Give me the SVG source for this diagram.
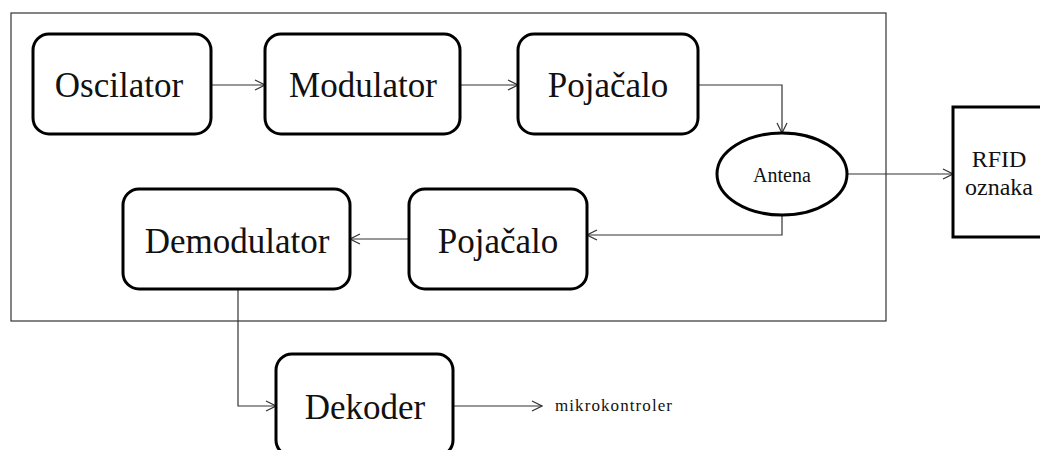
<svg xmlns="http://www.w3.org/2000/svg" width="1040" height="450" viewBox="0 0 1040 450">
<defs>
<style>
.box{fill:#fff;stroke:#000;stroke-width:3}
.frame{fill:none;stroke:#333;stroke-width:1.2}
.conn{fill:none;stroke:#333;stroke-width:1.2;marker-end:url(#arr)}
.t{font-family:"Liberation Serif","Times New Roman",serif;fill:#111;text-anchor:middle}
.big{font-size:35px}
</style>
<marker id="arr" viewBox="0 0 12 12" refX="11" refY="6" markerWidth="12" markerHeight="12" markerUnits="userSpaceOnUse" orient="auto">
<path d="M1,1 L11,6 L1,11" fill="none" stroke="#333" stroke-width="1.2"/>
</marker>
</defs>
<rect width="1040" height="450" fill="#fff"/>
<rect class="frame" x="11" y="13" width="875" height="308"/>
<g id="connectors">
<path class="conn" d="M211,85 H265"/>
<path class="conn" d="M460,85 H518"/>
<path class="conn" d="M698,85 H782 V133"/>
<path class="conn" d="M847,174 H953"/>
<path class="conn" d="M782,215 V235 H587"/>
<path class="conn" d="M409,239 H350"/>
<path class="conn" d="M238,289 V406 H276"/>
<path class="conn" d="M453,406 H542"/>
</g>
<g id="oscilator">
<rect class="box" x="33" y="34" width="178" height="100" rx="16"/>
<text class="t big" x="119" y="97">Oscilator</text>
</g>
<g id="modulator">
<rect class="box" x="265" y="34" width="195" height="100" rx="16"/>
<text class="t big" x="363" y="97">Modulator</text>
</g>
<g id="pojacalo1">
<rect class="box" x="518" y="34" width="180" height="100" rx="16"/>
<text class="t big" x="608" y="97">Pojačalo</text>
</g>
<g id="antena">
<ellipse class="box" cx="782" cy="174" rx="65" ry="41"/>
<text class="t" x="782" y="182" font-size="20">Antena</text>
</g>
<g id="rfid">
<rect class="box" x="953" y="107" width="95" height="130"/>
<text class="t" x="999" y="167" font-size="24">RFID</text>
<text class="t" x="999" y="195" font-size="24">oznaka</text>
</g>
<g id="pojacalo2">
<rect class="box" x="409" y="189" width="178" height="100" rx="16"/>
<text class="t big" x="498" y="253">Pojačalo</text>
</g>
<g id="demodulator">
<rect class="box" x="123" y="189" width="227" height="100" rx="16"/>
<text class="t big" x="237" y="253">Demodulator</text>
</g>
<g id="dekoder">
<rect class="box" x="276" y="354" width="177" height="102" rx="16"/>
<text class="t big" x="365" y="419">Dekoder</text>
</g>
<g id="mikrokontroler">
<text class="t" x="555" y="411" font-size="17" style="text-anchor:start" textLength="117">mikrokontroler</text>
</g>
</svg>
